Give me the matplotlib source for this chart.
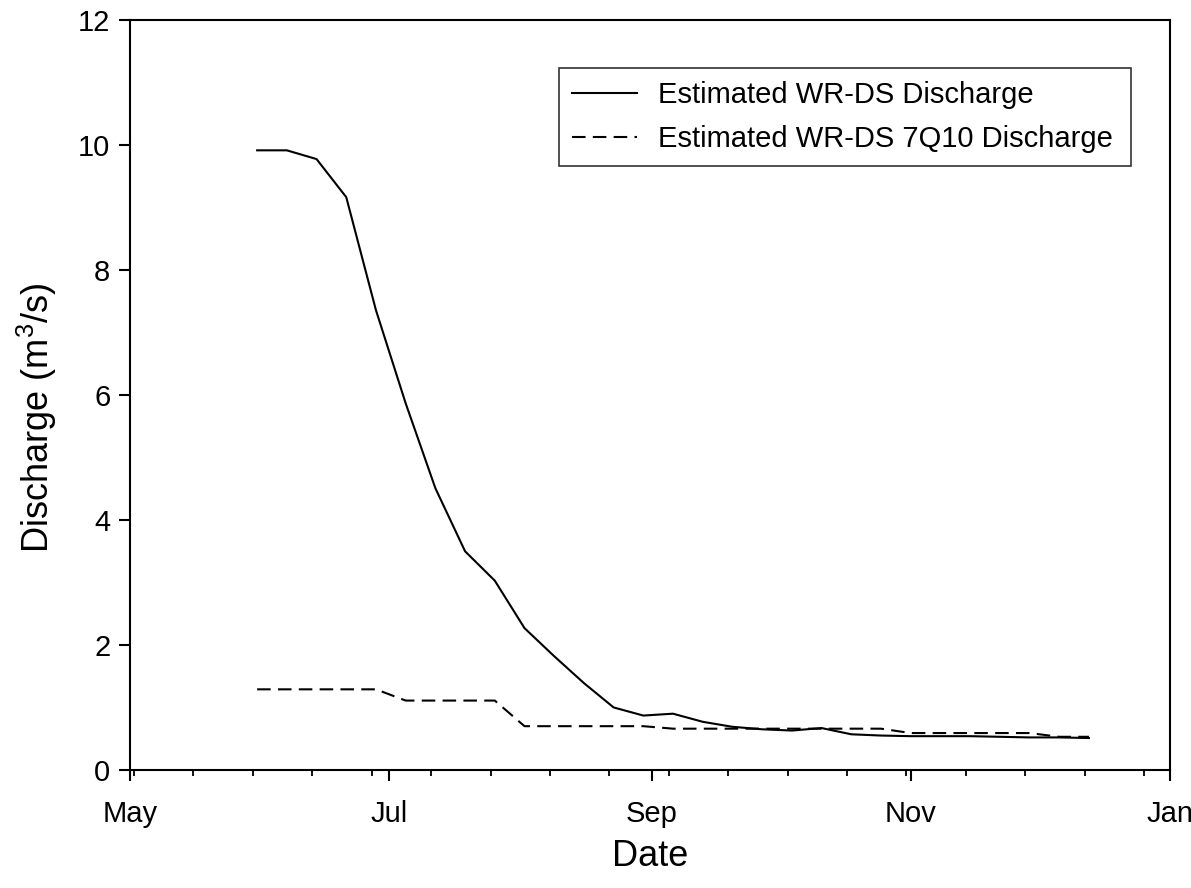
import matplotlib
matplotlib.use("Agg")
import matplotlib.pyplot as plt
import matplotlib.dates as mdates
import matplotlib.ticker as mticker
import pandas as pd

plt.rcParams['font.family'] = ['Liberation Sans', 'DejaVu Sans']
plt.rcParams['mathtext.fontset'] = 'custom'
plt.rcParams['mathtext.rm'] = 'Liberation Sans'
plt.rcParams['mathtext.default'] = 'rm'

# weekly dates of the estimates
dates = pd.to_datetime([
    "2010-05-31", "2010-06-07", "2010-06-14", "2010-06-21", "2010-06-28",
    "2010-07-05", "2010-07-12", "2010-07-19", "2010-07-26", "2010-08-02",
    "2010-08-09", "2010-08-16", "2010-08-23", "2010-08-30", "2010-09-06",
    "2010-09-13", "2010-09-20", "2010-09-27", "2010-10-04", "2010-10-11",
    "2010-10-18", "2010-10-25", "2010-11-01", "2010-11-08", "2010-11-15",
    "2010-11-22", "2010-11-29", "2010-12-06", "2010-12-13",
])

# estimated discharge (m3/s)
discharge = [9.92, 9.92, 9.78, 9.17, 7.36, 5.87, 4.51, 3.50, 3.03, 2.27,
             1.82, 1.39, 1.00, 0.87, 0.90, 0.77, 0.69, 0.65, 0.63, 0.67,
             0.57, 0.55, 0.54, 0.54, 0.54, 0.53, 0.52, 0.52, 0.51]

# estimated 7Q10 discharge (m3/s)
discharge_7q10 = [1.29, 1.29, 1.29, 1.29, 1.29, 1.11, 1.11, 1.11, 1.11, 0.70,
                  0.70, 0.70, 0.70, 0.70, 0.66, 0.66, 0.66, 0.66, 0.66, 0.66,
                  0.66, 0.66, 0.59, 0.59, 0.59, 0.59, 0.59, 0.53, 0.53]

labels = ["Estimated WR-DS Discharge", "Estimated WR-DS 7Q10 Discharge"]

fig = plt.figure(figsize=(11.91, 8.88), dpi=100)
ax = fig.add_axes([0.109, 0.133, 0.873, 0.844])

ax.plot(dates, discharge, color='black', lw=1.5, label=labels[0])
ax.plot(dates, discharge_7q10, color='black', lw=1.5,
        linestyle=(0, (6.5, 3.5)), label=labels[1])

ax.set_xlim(pd.Timestamp("2010-05-01"), pd.Timestamp("2011-01-01"))
ax.set_ylim(0, 12)

ax.xaxis.set_major_locator(mdates.MonthLocator(bymonth=[1, 5, 7, 9, 11]))
ax.xaxis.set_major_formatter(mdates.DateFormatter('%b'))
minor = pd.date_range("2010-05-02", "2010-12-31", freq="14D")
ax.xaxis.set_minor_locator(mticker.FixedLocator(mdates.date2num(minor)))
ax.yaxis.set_major_locator(mticker.MultipleLocator(2))

ax.tick_params(axis='both', which='major', direction='out', length=8,
               width=1.5, labelsize=21)
ax.tick_params(axis='x', which='major', pad=14)
ax.tick_params(axis='y', which='major', pad=6)
ax.tick_params(axis='x', which='minor', direction='out', length=4.5, width=1.3)
for s in ax.spines.values():
    s.set_linewidth(1.5)

ax.set_xlabel("Date", fontsize=26, va='center')
ax.set_ylabel("Discharge (m$^3$/s)", fontsize=26, va='center')
ax.xaxis.set_label_coords(0.5, -0.115)
ax.yaxis.set_label_coords(-0.089, 0.469)

leg = ax.legend(loc='upper left', bbox_to_anchor=(0.413, 0.5, 0.55, 0.437),
                mode='expand', borderaxespad=0,
                fontsize=21, frameon=True, fancybox=False,
                handlelength=2.23, handletextpad=0.69, borderpad=0.45,
                labelspacing=0.55)
leg.get_frame().set_edgecolor('black')
leg.get_frame().set_linewidth(1.2)

fig.savefig("out.png", dpi=100)
